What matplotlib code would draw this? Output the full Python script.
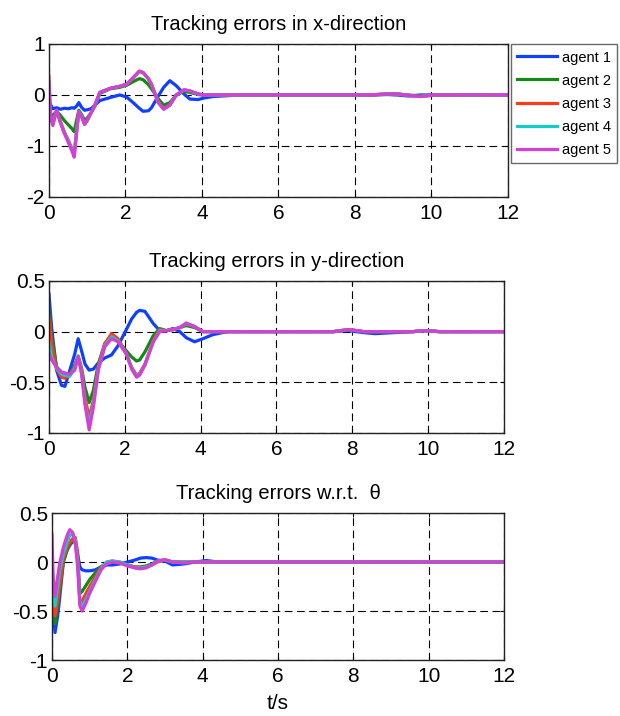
import matplotlib
matplotlib.use("Agg")
import matplotlib.pyplot as plt

plt.rcParams['font.family'] = ['Liberation Sans', 'DejaVu Sans']

agents = ["agent 1", "agent 2", "agent 3", "agent 4", "agent 5"]
colors = ["#1040ff", "#148a14", "#ff3a1a", "#12cccc", "#d63fd6"]
titles = ["Tracking errors in x-direction", "Tracking errors in y-direction",
          "Tracking errors w.r.t.  \u03b8"]

# x-direction errors
tx = [0, 0.05, 0.1, 0.2, 0.3, 0.4, 0.5, 0.6, 0.66, 0.72, 0.78, 0.85, 0.93, 1.0,
      1.1, 1.2, 1.33, 1.6, 1.85, 2.03, 2.2, 2.36, 2.46, 2.6, 2.68, 2.85, 3.0,
      3.16, 3.33, 3.53, 3.68, 3.9, 4.05, 4.3, 5, 8.4, 8.8, 9.1, 9.4, 9.7, 10.1, 12]
ex1 = [-0.12, -0.2, -0.27, -0.25, -0.28, -0.26, -0.27, -0.25, -0.26, -0.22, -0.15,
       -0.24, -0.3, -0.29, -0.27, -0.2, -0.11, -0.05, 0.0, -0.04, -0.15, -0.26,
       -0.32, -0.31, -0.25, -0.03, 0.15, 0.28, 0.18, 0.02, -0.08, -0.09, -0.06,
       -0.03, 0, 0, 0.01, 0, -0.02, 0, 0, 0]
ex2 = [-0.35, -0.45, -0.4, -0.32, -0.4, -0.5, -0.58, -0.66, -0.72, -0.5, -0.3,
       -0.38, -0.5, -0.45, -0.35, -0.22, 0.03, 0.12, 0.15, 0.19, 0.26, 0.32, 0.3,
       0.2, 0.12, -0.07, -0.2, -0.15, 0.0, 0.07, 0.05, 0.01, 0, 0, 0, 0, 0.01,
       0.02, 0, -0.02, 0, 0]
ex3 = [-0.2, -0.42, -0.55, -0.3, -0.52, -0.72, -0.88, -1.05, -1.14, -0.72, -0.33,
       -0.42, -0.56, -0.5, -0.35, -0.2, 0.05, 0.13, 0.17, 0.21, 0.33, 0.46, 0.44,
       0.31, 0.2, -0.13, -0.27, -0.19, 0.0, 0.1, 0.08, 0.02, 0, 0, 0, 0, 0.02,
       0.02, -0.01, -0.03, 0, 0]
ex4 = [-0.4, -0.45, -0.58, -0.3, -0.54, -0.74, -0.9, -1.08, -1.18, -0.74, -0.33,
       -0.42, -0.57, -0.5, -0.35, -0.2, 0.05, 0.13, 0.17, 0.21, 0.34, 0.46, 0.44,
       0.32, 0.21, -0.14, -0.28, -0.2, 0.0, 0.1, 0.08, 0.02, 0, 0, 0, 0, 0.02,
       0.02, -0.01, -0.03, 0, 0]
ex5 = [0.37, -0.45, -0.6, -0.3, -0.55, -0.75, -0.92, -1.1, -1.22, -0.75, -0.33,
       -0.42, -0.58, -0.5, -0.35, -0.2, 0.05, 0.13, 0.17, 0.21, 0.34, 0.47, 0.44,
       0.32, 0.21, -0.14, -0.28, -0.2, 0.0, 0.1, 0.08, 0.02, 0, 0, 0, 0, 0.02,
       0.02, -0.01, -0.03, 0, 0]

# y-direction errors
ty = [0, 0.07, 0.2, 0.33, 0.42, 0.55, 0.68, 0.77, 0.86, 0.95, 1.06, 1.17, 1.3,
      1.47, 1.65, 1.82, 2.04, 2.18, 2.31, 2.39, 2.53, 2.75, 2.92, 3.1, 3.27, 3.45,
      3.62, 3.84, 4.06, 4.32, 4.7, 7.5, 7.9, 8.3, 8.6, 9.6, 9.9, 10.3, 12]
ey1 = [0.37, 0.04, -0.38, -0.53, -0.54, -0.38, -0.22, -0.07, -0.19, -0.32, -0.38,
       -0.37, -0.31, -0.26, -0.23, -0.14, 0.02, 0.125, 0.19, 0.21, 0.2, 0.08, 0.01,
       0.01, 0.03, 0.0, -0.06, -0.1, -0.07, -0.03, 0, 0, 0.01, -0.01, -0.02, 0,
       0.01, 0, 0]
ey2 = [0.22, -0.05, -0.35, -0.4, -0.41, -0.42, -0.33, -0.24, -0.36, -0.55, -0.7,
       -0.58, -0.32, -0.12, -0.04, -0.09, -0.19, -0.25, -0.29, -0.28, -0.2, -0.04,
       0.03, 0.01, 0.02, 0.04, 0.06, 0.04, 0, 0, 0, 0, 0.02, 0, 0, 0, 0.01, 0, 0]
ey3 = [0.16, -0.12, -0.37, -0.45, -0.46, -0.43, -0.35, -0.25, -0.38, -0.65, -0.85,
       -0.68, -0.35, -0.12, -0.02, -0.07, -0.22, -0.35, -0.43, -0.41, -0.32, -0.09,
       0.02, 0.01, 0.02, 0.04, 0.075, 0.05, 0, 0, 0, 0, 0.02, 0, 0, 0, 0.01, 0, 0]
ey4 = [-0.1, -0.25, -0.36, -0.42, -0.43, -0.44, -0.36, -0.25, -0.4, -0.7, -0.92,
       -0.72, -0.37, -0.14, -0.05, -0.09, -0.22, -0.36, -0.44, -0.42, -0.33, -0.1,
       0.01, 0.01, 0.02, 0.04, 0.08, 0.05, 0, 0, 0, 0, 0.02, 0, 0, 0, 0.01, 0, 0]
ey5 = [-0.22, -0.28, -0.35, -0.4, -0.41, -0.42, -0.38, -0.25, -0.42, -0.72, -0.97,
       -0.75, -0.38, -0.15, -0.07, -0.1, -0.22, -0.37, -0.45, -0.43, -0.33, -0.1,
       0.0, 0.01, 0.02, 0.04, 0.085, 0.05, 0, 0, 0, 0, 0.02, 0, 0, 0, 0.01, 0, 0]

# theta errors
tt = [0, 0.03, 0.08, 0.15, 0.2, 0.3, 0.4, 0.47, 0.55, 0.62, 0.68, 0.74, 0.8, 0.9,
      1.0, 1.15, 1.3, 1.45, 1.6, 1.8, 2.0, 2.2, 2.35, 2.5, 2.65, 2.8, 3.0, 3.2,
      3.5, 3.8, 4.1, 4.4, 12]
et1 = [-0.15, -0.5, -0.72, -0.55, -0.38, 0.0, 0.12, 0.17, 0.21, 0.2, 0.08, -0.05,
       -0.08, -0.09, -0.09, -0.08, -0.05, -0.03, -0.03, -0.02, 0.0, 0.02, 0.04,
       0.045, 0.04, 0.02, 0.01, -0.03, -0.02, 0.0, 0.015, 0, 0]
et2 = [-0.1, -0.4, -0.63, -0.45, -0.3, 0.0, 0.13, 0.18, 0.22, 0.2, 0.05, -0.32,
       -0.3, -0.24, -0.18, -0.11, -0.05, -0.01, 0.0, -0.01, -0.03, -0.05, -0.05,
       -0.04, -0.02, 0.01, 0.02, 0, 0, 0, 0, 0, 0]
et3 = [0.0, -0.35, -0.55, -0.4, -0.25, 0.03, 0.15, 0.2, 0.24, 0.25, 0.1, -0.42,
       -0.4, -0.32, -0.25, -0.15, -0.06, 0.0, 0.01, 0.0, -0.03, -0.05, -0.06,
       -0.05, -0.03, 0.0, 0.02, 0, 0, 0, 0, 0, 0]
et4 = [0.1, -0.3, -0.45, -0.25, -0.1, 0.08, 0.2, 0.27, 0.29, 0.22, 0.0, -0.4,
       -0.46, -0.38, -0.3, -0.18, -0.07, 0.0, 0.01, 0.0, -0.03, -0.06, -0.06,
       -0.05, -0.03, 0.01, 0.02, 0, 0, 0, 0, 0, 0]
et5 = [0.28, -0.15, -0.35, -0.15, -0.02, 0.15, 0.27, 0.33, 0.3, 0.18, -0.05, -0.45,
       -0.5, -0.42, -0.32, -0.2, -0.08, -0.02, 0.0, -0.01, -0.04, -0.06, -0.07,
       -0.06, -0.03, 0.01, 0.025, 0.0, -0.01, 0, 0, 0, 0]

panels = [
    (tx, [ex1, ex2, ex3, ex4, ex5], (-2, 1), [-2, -1, 0, 1], ["-2", "-1", "0", "1"]),
    (ty, [ey1, ey2, ey3, ey4, ey5], (-1, 0.5), [-1, -0.5, 0, 0.5], ["-1", "-0.5", "0", "0.5"]),
    (tt, [et1, et2, et3, et4, et5], (-1, 0.5), [-1, -0.5, 0, 0.5], ["-1", "-0.5", "0", "0.5"]),
]
positions = [
    [0.079, 0.7249, 0.7403, 0.2137],
    [0.079, 0.3953, 0.7339, 0.2123],
    [0.0839, 0.0782, 0.729, 0.2053],
]

fig = plt.figure(figsize=(6.2, 7.16), dpi=100)

axes = []
for i, (t, series, ylim, yticks, ylabels) in enumerate(panels):
    ax = fig.add_axes(positions[i])
    for vals, c, name in zip(series, colors, agents):
        ax.plot(t, vals, color=c, lw=2.3, label=name)
    ax.set_xlim(0, 12)
    ax.set_ylim(*ylim)
    ax.set_xticks(range(0, 13, 2))
    ax.set_yticks(yticks)
    ax.set_yticklabels(ylabels)
    ax.grid(True, color="black", lw=0.8, linestyle=(0, (7, 4)))
    ax.tick_params(direction="in", length=3, labelsize=15, top=True, right=True)
    ax.tick_params(axis="x", pad=5)
    ax.tick_params(axis="y", pad=3)
    for s in ax.spines.values():
        s.set_color("#222222")
        s.set_linewidth(1.0)
    ax.set_title(titles[i], fontsize=14.5, pad=10)
    axes.append(ax)

axes[2].set_xlabel("t/s", fontsize=15, labelpad=6)

leg = axes[0].legend(loc="upper left", bbox_to_anchor=(1.006, 1.0), fontsize=10.5,
                     frameon=True, fancybox=False, edgecolor="#444444",
                     handlelength=2.7, labelspacing=0.62, borderaxespad=0,
                     handletextpad=0.35, borderpad=0.45)
leg.get_frame().set_linewidth(1.0)

fig.savefig("out.png", dpi=100)
